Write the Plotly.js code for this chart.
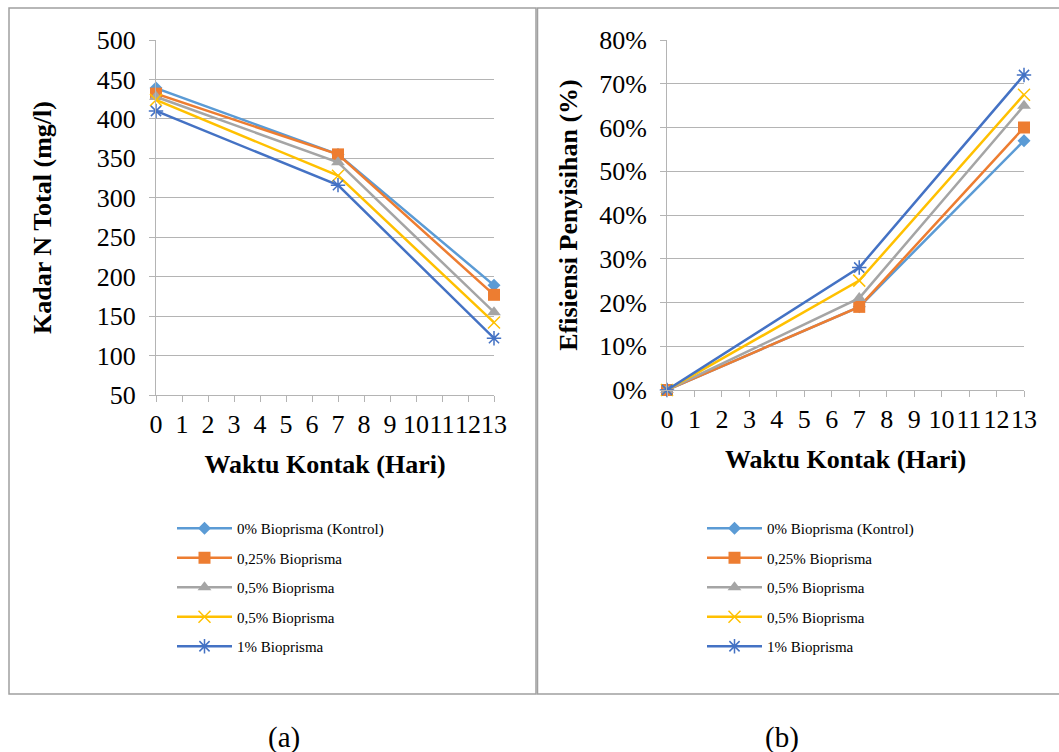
<!DOCTYPE html>
<html>
<head>
<meta charset="utf-8">
<script src="https://cdn.plot.ly/plotly-3.0.1.min.js"></script>
<style>html,body{margin:0;padding:0;background:#fff;}#chart{width:1059px;height:752px;}</style>
</head>
<body>
<div id="chart"></div>
<script>
// ---- data ----
const days = [0, 7, 13];
const seriesNames = ['0% Bioprisma (Kontrol)', '0,25% Bioprisma', '0,5% Bioprisma', '0,5% Bioprisma', '1% Bioprisma'];
const nKontrol = [439, 355, 189];
const n025 = [432, 355, 177];
const n05a = [428, 345, 155];
const n05b = [424, 328, 142];
const n1 = [410, 316, 122];
const effKontrol = [0, 19, 57];
const eff025 = [0, 19, 60];
const eff05a = [0, 21, 65];
const eff05b = [0, 25, 67.5];
const eff1 = [0, 28, 72];
const xTicks = [0,1,2,3,4,5,6,7,8,9,10,11,12,13];
const yTicksA = [50,100,150,200,250,300,350,400,450,500];
const yTicksB = [0,10,20,30,40,50,60,70,80];

const colors = ['#5B9BD5', '#ED7D31', '#A5A5A5', '#FFC000', '#4472C4'];
const symbols = ['diamond', 'square', 'triangle-up', 'x-thin-open', 'asterisk-open'];
const sizes = [10, 12, 12, 12, 12];

const W = 1059, H = 752;
const px = v => v / W;
const py = v => 1 - v / H;

const nData = [nKontrol, n025, n05a, n05b, n1];
const eData = [effKontrol, eff025, eff05a, eff05b, eff1];
const traces = [];
nData.forEach((ys, i) => {
  traces.push({
    x: days, y: ys, xaxis: 'x', yaxis: 'y', name: seriesNames[i],
    mode: 'lines+markers', cliponaxis: false, legend: 'legend', legendgroup: 'a' + i,
    line: {color: colors[i], width: 2.5},
    marker: {symbol: symbols[i], size: sizes[i], color: colors[i], line: {color: colors[i], width: i >= 3 ? 1.5 : 0}}
  });
});
eData.forEach((ys, i) => {
  traces.push({
    x: days, y: ys, xaxis: 'x2', yaxis: 'y2', name: seriesNames[i],
    mode: 'lines+markers', cliponaxis: false, legend: 'legend2', legendgroup: 'b' + i,
    line: {color: colors[i], width: 2.5},
    marker: {symbol: symbols[i], size: sizes[i], color: colors[i], line: {color: colors[i], width: i >= 3 ? 1.5 : 0}}
  });
});

const serif = 'Liberation Serif, Times New Roman, serif';
const tickFont = {family: serif, size: 26, color: '#000'};
const titleFont = {family: serif, size: 26, color: '#000', weight: 'bold'};
const gridC = '#B4B4B4';

const xBase = {
  range: [0, 13], tickmode: 'array', tickvals: xTicks, ticktext: xTicks.map(String),
  tickangle: 0, showgrid: false, zeroline: false, showline: true, linecolor: gridC, linewidth: 1,
  ticks: 'outside', ticklen: 6, tickcolor: gridC, tickfont: tickFont, fixedrange: true
};
const legendBase = {
  font: {family: serif, size: 15, color: '#000'}, bgcolor: 'rgba(0,0,0,0)',
  itemwidth: 55, tracegroupgap: 7, xanchor: 'left', yanchor: 'top'
};

const layout = {
  width: W, height: H, margin: {l: 0, r: 0, t: 0, b: 0},
  paper_bgcolor: '#fff', plot_bgcolor: 'rgba(0,0,0,0)', showlegend: true,
  xaxis: Object.assign({}, xBase, {domain: [px(156), px(494)], anchor: 'y',
    title: {text: 'Waktu Kontak (Hari)', font: titleFont, standoff: 16}}),
  yaxis: {domain: [py(395), py(40)], anchor: 'x', range: [50, 500], tickmode: 'array', tickvals: yTicksA,
    showgrid: true, gridcolor: gridC, gridwidth: 1, zeroline: false, showline: true, linecolor: gridC,
    ticks: 'outside', ticklen: 6, tickcolor: gridC, tickfont: tickFont, ticklabelstandoff: 8,
    title: {text: 'Kadar N Total (mg/l)', font: titleFont, standoff: 37}, fixedrange: true},
  xaxis2: Object.assign({}, xBase, {domain: [px(667), px(1024)], anchor: 'y2',
    title: {text: 'Waktu Kontak (Hari)', font: titleFont, standoff: 16}}),
  yaxis2: {domain: [py(390), py(40)], anchor: 'x2', range: [0, 80], tickmode: 'array', tickvals: yTicksB,
    ticktext: yTicksB.map(v => v + '%'),
    showgrid: true, gridcolor: gridC, gridwidth: 1, zeroline: false, showline: true, linecolor: gridC,
    ticks: 'outside', ticklen: 6, tickcolor: gridC, tickfont: tickFont, ticklabelstandoff: 8,
    title: {text: 'Efisiensi Penyisihan (%)', font: titleFont, standoff: 14}, fixedrange: true},
  legend: Object.assign({}, legendBase, {x: px(172), y: py(512)}),
  legend2: Object.assign({}, legendBase, {x: px(702), y: py(512)}),
  shapes: [
    {type: 'rect', xref: 'paper', yref: 'paper', x0: px(9), x1: px(536), y0: py(694), y1: py(8),
      line: {color: '#A0A0A0', width: 1.5}},
    {type: 'rect', xref: 'paper', yref: 'paper', x0: px(537.5), x1: px(1070), y0: py(694), y1: py(8),
      line: {color: '#A0A0A0', width: 1.5}}
  ],
  annotations: [
    {text: '(a)', xref: 'paper', yref: 'paper', x: px(266), y: py(737), yanchor: 'middle', showarrow: false,
      font: {family: serif, size: 29, color: '#000'}},
    {text: '(b)', xref: 'paper', yref: 'paper', x: px(801), y: py(737), yanchor: 'middle', showarrow: false,
      font: {family: serif, size: 29, color: '#000'}}
  ]
};

Plotly.newPlot('chart', traces, layout, {displayModeBar: false, staticPlot: true});
</script>
</body>
</html>
